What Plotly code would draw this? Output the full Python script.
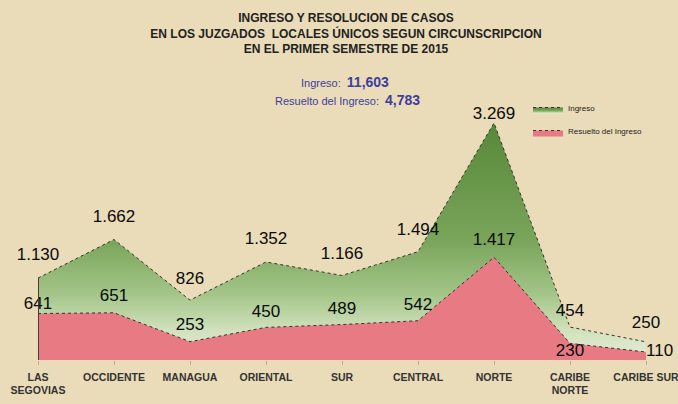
import plotly.graph_objects as go

categories = ["LAS<br>SEGOVIAS", "OCCIDENTE", "MANAGUA", "ORIENTAL", "SUR",
              "CENTRAL", "NORTE", "CARIBE<br>NORTE", "CARIBE SUR"]
ingreso = [1130, 1662, 826, 1352, 1166, 1494, 3269, 454, 250]
resuelto = [641, 651, 253, 450, 489, 542, 1417, 230, 110]
total_ingreso = "11,603"
total_resuelto = "4,783"

resuelto_pos = ["top center"] * 7 + ["bottom center", "middle right"]
# invisible marker sizes only used to space the value labels from the line
ingreso_gap = [20, 20, 18, 20, 18, 18, 0, 10, 14]
resuelto_gap = [0, 10, 10, 8, 8, 8, 12, 0, 0]

BG = "#EADCB8"
LABEL_FONT = dict(family="Liberation Sans, Arial", size=17, color="#0A0A0A")
HIDDEN = dict(color="rgba(0,0,0,0)", opacity=0,
              line=dict(width=0, color="rgba(0,0,0,0)"))

# plot area: baseline at y=360px, top at y=98px
TOP, BASE = 98, 360
YMAX = (BASE - TOP) / 0.0725


def py(ypx):
    return (BASE - ypx) / (BASE - TOP)


def px(xpx):
    return (xpx - 38) / 608


fig = go.Figure()

fig.add_trace(go.Scatter(
    x=categories, y=ingreso, name="Ingreso", legendgroup="a",
    mode="lines+markers+text", fill="tozeroy",
    line=dict(color="#333333", width=1, dash="dot"),
    marker=dict(size=ingreso_gap, **HIDDEN),
    fillgradient=dict(type="vertical", start=0, stop=max(ingreso),
                      colorscale=[[0, "#E4EDD6"], [0.12, "#D2E2BE"],
                                  [0.28, "#A3C588"], [0.5, "#7AA55B"],
                                  [1, "#578839"]]),
    text=[f"{v:,}".replace(",", ".") for v in ingreso],
    textposition="top center", textfont=LABEL_FONT,
    cliponaxis=False,
))

fig.add_trace(go.Scatter(
    x=categories, y=resuelto, name="Resuelto del Ingreso", legendgroup="b",
    mode="lines+markers+text", fill="tozeroy",
    line=dict(color="#333333", width=1, dash="dot"),
    marker=dict(size=resuelto_gap, **HIDDEN),
    fillcolor="#E87A84",
    text=[f"{v:,}".replace(",", ".") for v in resuelto],
    textposition=resuelto_pos, textfont=LABEL_FONT,
    cliponaxis=False,
))

# left edge of the area
fig.add_trace(go.Scatter(
    x=[categories[0], categories[0]], y=[0, ingreso[0]], mode="lines",
    line=dict(color="#4A3A33", width=2), showlegend=False, hoverinfo="skip",
))

fig.update_layout(
    width=678, height=404,
    paper_bgcolor=BG, plot_bgcolor=BG,
    margin=dict(l=38, r=32, t=TOP, b=404 - BASE, autoexpand=False),
    font=dict(family="Liberation Sans, Arial", color="#222222"),
    title=dict(
        text="<b>INGRESO Y RESOLUCION DE CASOS<br>EN LOS JUZGADOS  LOCALES ÚNICOS SEGUN CIRCUNSCRIPCION<br>EN EL PRIMER SEMESTRE DE 2015</b>",
        x=px(346), xref="paper", xanchor="center",
        y=1 - 22 / 404, yref="container", yanchor="top",
        font=dict(size=12, color="#222222"),
    ),
    showlegend=True,
    legend=dict(x=px(528), y=py(93), xanchor="left", yanchor="top",
                bgcolor="rgba(0,0,0,0)", font=dict(size=8, color="#222222"),
                tracegroupgap=4, itemwidth=30),
    xaxis=dict(
        type="category", range=[0, len(categories) - 1], automargin=False,
        showgrid=False, zeroline=False, showline=False,
        ticks="outside", ticklen=4, tickcolor="#B8AC90", ticklabelstandoff=3,
        tickfont=dict(family="Liberation Sans, Arial",
                      size=10.5, color="#333333", weight="bold"),
    ),
    yaxis=dict(range=[0, YMAX], visible=False, automargin=False),
    annotations=[
        dict(xref="paper", yref="paper", x=px(345), y=py(82), yanchor="middle",
             text=f"Ingreso:  <b><span style='font-size:14px'>{total_ingreso}</span></b>",
             showarrow=False, font=dict(size=11, color="#3D3DA0")),
        dict(xref="paper", yref="paper", x=px(347), y=py(100), yanchor="middle",
             text=f"Resuelto del Ingreso:  <b><span style='font-size:14px'>{total_resuelto}</span></b>",
             showarrow=False, font=dict(size=11, color="#3D3DA0")),
    ],
)

fig.write_html("out.html", config={"displayModeBar": False},
               post_script="document.body.style.margin='0';")
